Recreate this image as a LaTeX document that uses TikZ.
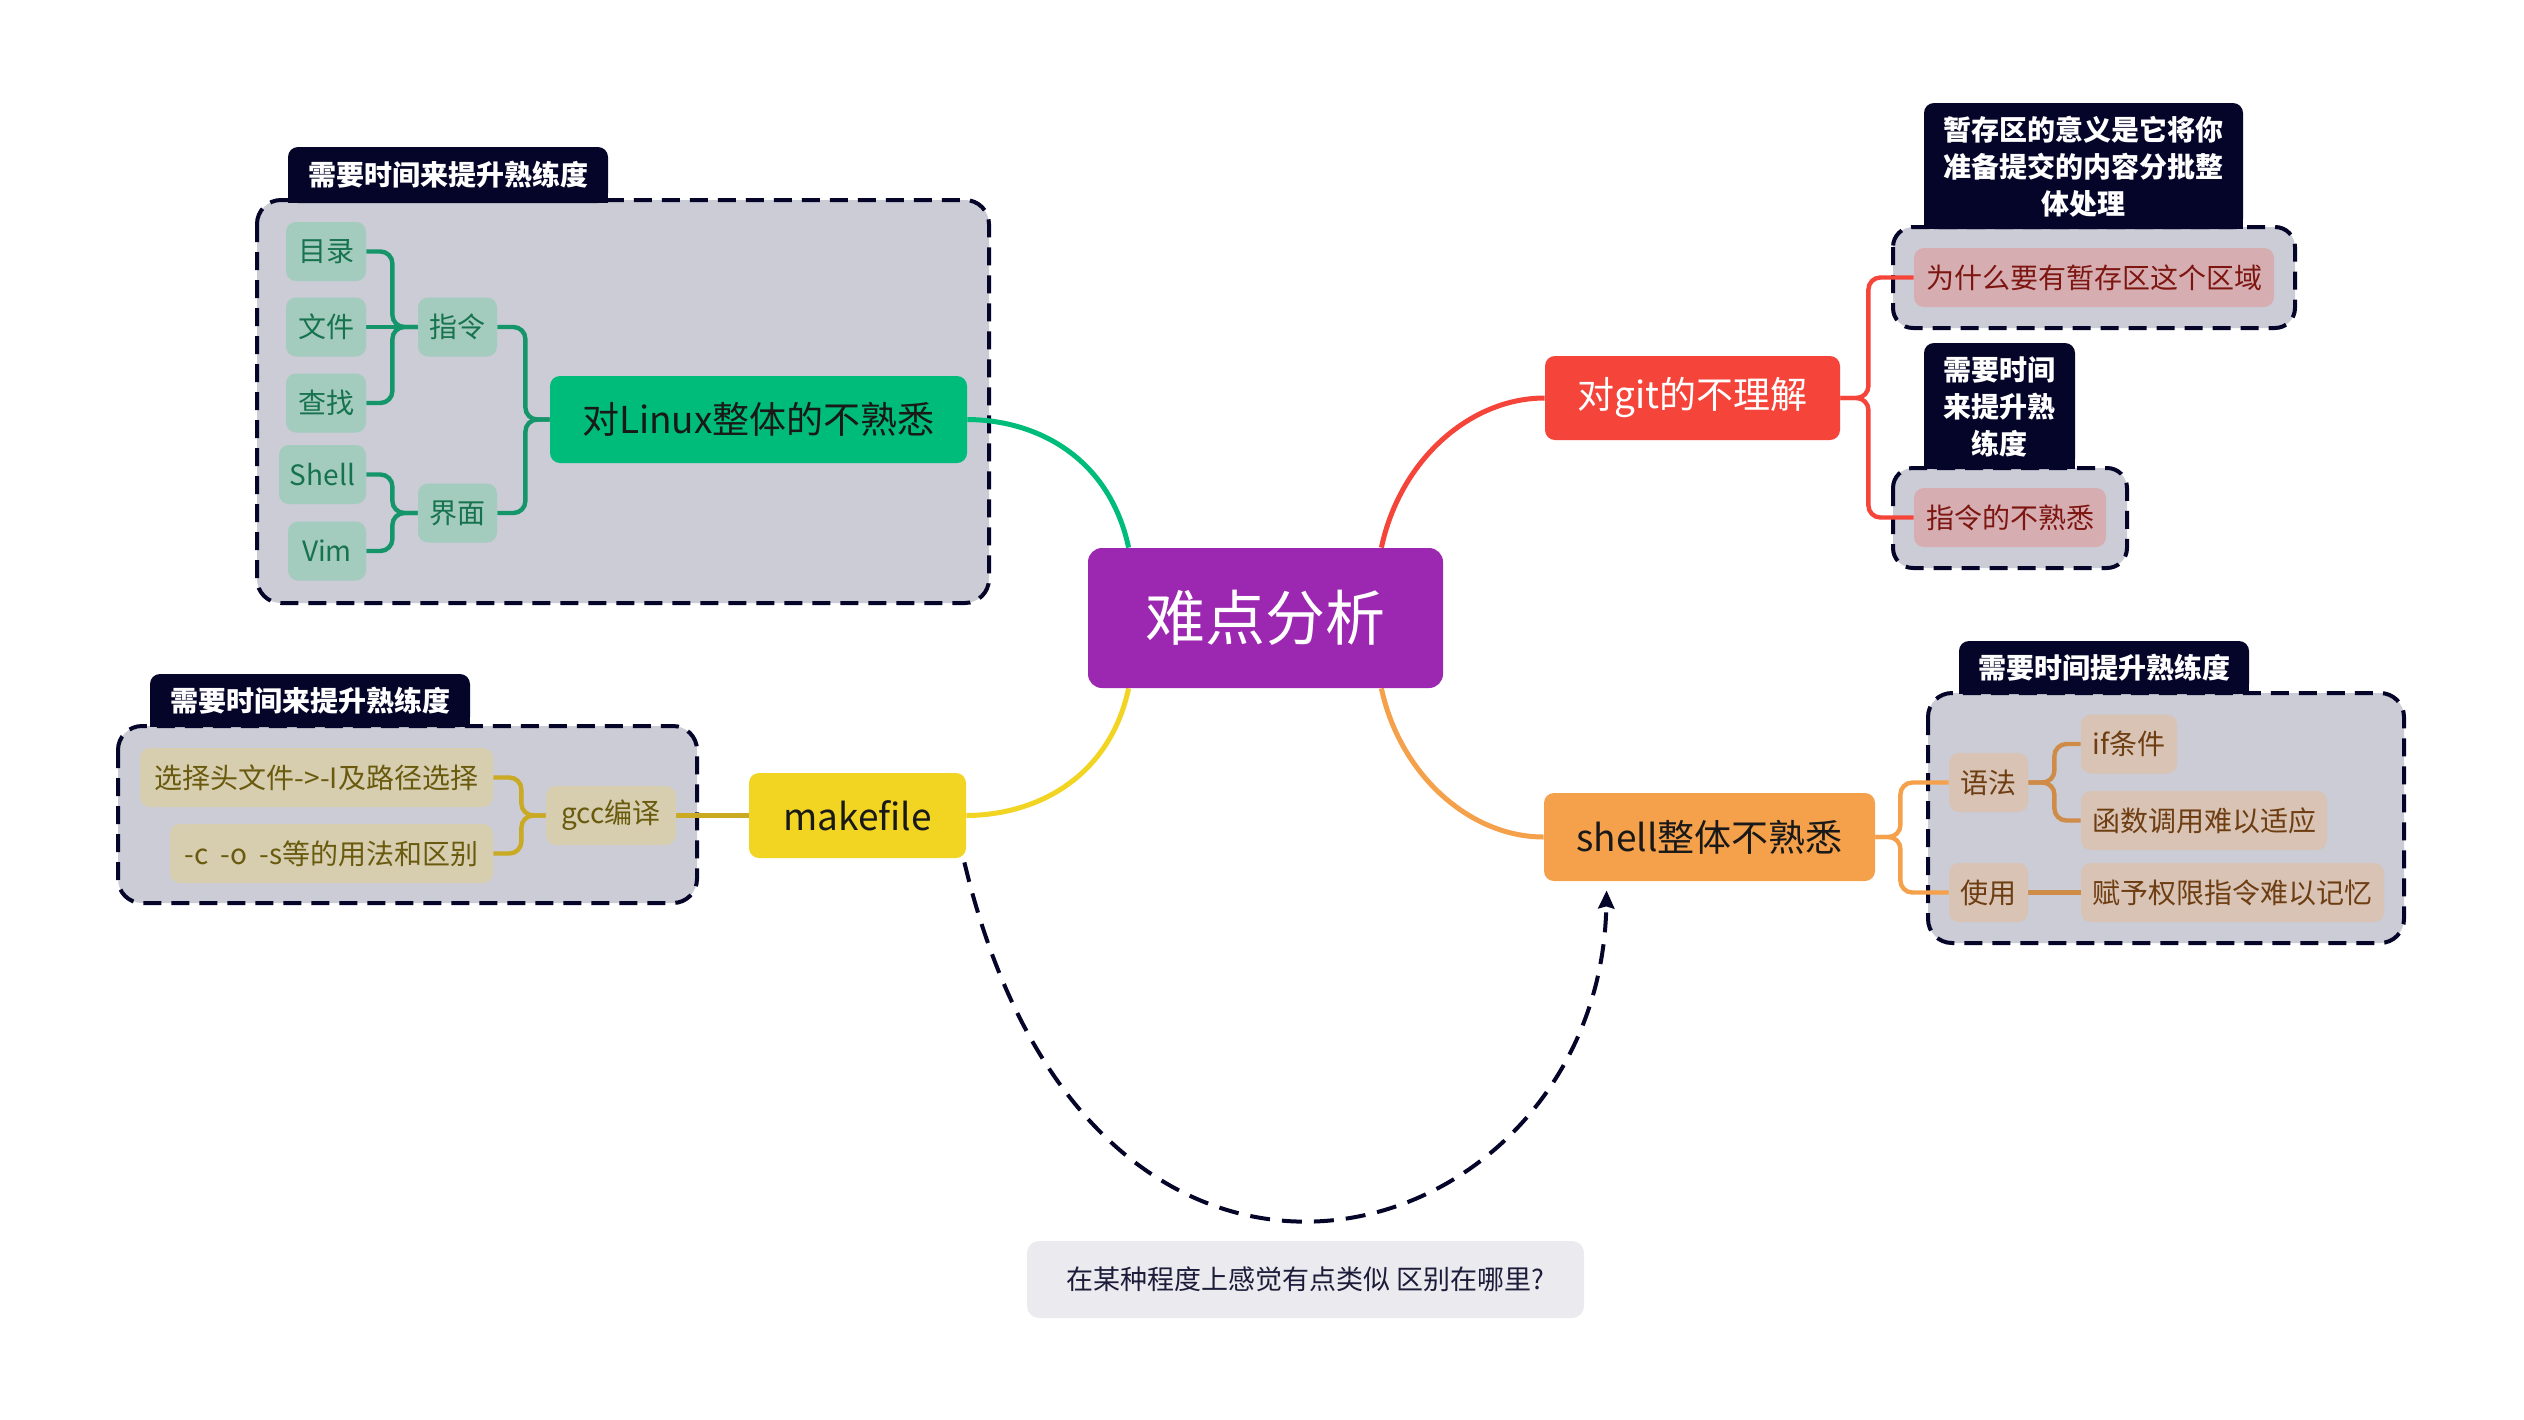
\documentclass[tikz,border=0pt]{standalone}
\usepackage{fontspec}
\setmainfont{Noto Sans CJK SC}
\usetikzlibrary{calc,arrows.meta}
\pgfdeclarelayer{grp}
\pgfdeclarelayer{edge}
\pgfsetlayers{grp,edge,main}
\definecolor{navy}{HTML}{05052A}
\definecolor{boxgray}{HTML}{CBCCD6}
\definecolor{cpurple}{HTML}{9C27B0}
\definecolor{cgreen}{HTML}{00BC7B}
\definecolor{gline}{HTML}{15956A}
\definecolor{gsub}{HTML}{A3CBBE}
\definecolor{gtext}{HTML}{17734F}
\definecolor{cred}{HTML}{F5453A}
\definecolor{rsub}{HTML}{D6AEB2}
\definecolor{rtext}{HTML}{7D1510}
\definecolor{cyellow}{HTML}{F2D422}
\definecolor{yline}{HTML}{C9AA22}
\definecolor{ysub}{HTML}{D6CEAF}
\definecolor{ytext}{HTML}{6A5A0E}
\definecolor{corange}{HTML}{F5A04A}
\definecolor{oline}{HTML}{CF8B48}
\definecolor{osub}{HTML}{D8C3B4}
\definecolor{otext}{HTML}{6E3D12}
\definecolor{notefill}{HTML}{EBEAEE}
\definecolor{notetext}{HTML}{1C1C3A}
\tikzset{
  topic/.style={rounded corners=5pt, inner sep=0pt, minimum height=43pt, font=\fontsize{18.5pt}{22pt}\selectfont},
  sub/.style={rounded corners=5pt, inner sep=0pt, minimum height=29.5pt, font=\fontsize{14pt}{17pt}\selectfont},
  gs/.style={sub, fill=gsub, text=gtext},
  rs/.style={sub, fill=rsub, text=rtext},
  ys/.style={sub, fill=ysub, text=ytext},
  os/.style={sub, fill=osub, text=otext},
  grpbox/.style={draw=navy, fill=boxgray, line width=2pt, dash pattern=on 9pt off 5pt, rounded corners=12pt},
  tagfill/.style={fill=navy},
  tagtext/.style={text=white, font=\bfseries\fontsize{14pt}{18.5pt}\selectfont, align=center, inner sep=0pt},
  mainedge/.style={line width=2.5pt},
  subedge/.style={line width=2.2pt, rounded corners=6pt},
  relation/.style={draw=navy, line width=2pt, dash pattern=on 10pt off 6pt, -{Stealth[length=9pt,width=8pt,inset=1pt]}},
}
\begin{document}
\begin{tikzpicture}[x=0.5pt,y=-0.5pt]
\useasboundingbox (0,0) rectangle (2524,1420);

% group boxes and tags
\begin{pgfonlayer}{grp}
\fill[white] (0,0) rectangle (2524,1420);
\draw[grpbox] (257,200) rectangle (989,603);
\draw[grpbox] (118,726) rectangle (697,903);
\draw[grpbox, rounded corners=10pt] (1893,227) rectangle (2295,328);
\draw[grpbox, rounded corners=10pt] (1893,468) rectangle (2127,568);
\draw[grpbox] (1928,693) rectangle (2404,943);
\fill[tagfill, rounded corners=5pt] (288,147) rectangle (608,203);
\fill[tagfill] (288,180) rectangle (608,203);
\fill[tagfill, rounded corners=5pt] (150,674) rectangle (470,727);
\fill[tagfill] (150,705) rectangle (470,727);
\fill[tagfill, rounded corners=5pt] (1924,103) rectangle (2243,229);
\fill[tagfill] (1924,200) rectangle (2243,229);
\fill[tagfill, rounded corners=5pt] (1924,343) rectangle (2075,469);
\fill[tagfill] (1924,440) rectangle (2075,469);
\fill[tagfill, rounded corners=5pt] (1959,641) rectangle (2249,694);
\fill[tagfill] (1959,670) rectangle (2249,694);
\end{pgfonlayer}

\node[tagtext] (t1) at (448,175) {需要时间来提升熟练度};
\node[tagtext] (t2) at (310,701) {需要时间来提升熟练度};
\node[tagtext] (t3) at (2083.5,167) {暂存区的意义是它将你\\准备提交的内容分批整\\体处理};
\node[tagtext] (t4) at (1999.5,407) {需要时间\\来提升熟\\练度};
\node[tagtext] (t5) at (2104,668) {需要时间提升熟练度};

% main topics
\node[topic, fill=cpurple, text=white, minimum width=177.5pt, minimum height=70pt, rounded corners=7pt, font=\fontsize{30pt}{36pt}\selectfont] (ctr) at (1265.5,618) {难点分析};
\node[topic, fill=cgreen, text=black!90, minimum width=208.5pt, minimum height=43.5pt] (lin) at (758.5,419.5) {对Linux整体的不熟悉};
\node[topic, fill=cred, text=white, minimum width=147.5pt, minimum height=42pt] (git) at (1692.5,398) {对git的不理解};
\node[topic, fill=cyellow, text=black!90, minimum width=108.5pt, minimum height=42.5pt] (mk) at (857.5,815.5) {makefile};
\node[topic, fill=corange, text=black!90, minimum width=165.5pt, minimum height=44pt] (sh) at (1709.5,837) {shell整体不熟悉};

% green subtopics
\node[gs, minimum width=40pt] (ml) at (326,251.5) {目录};
\node[gs, minimum width=40pt] (wj) at (326,327) {文件};
\node[gs, minimum width=40pt] (cz) at (326,403) {查找};
\node[gs, minimum width=43.5pt] (shl) at (322.5,474.5) {Shell};
\node[gs, minimum width=39pt] (vim) at (327,551) {Vim};
\node[gs, minimum width=39.5pt] (zl) at (457.5,327) {指令};
\node[gs, minimum width=39.5pt] (jm) at (457.5,513) {界面};

% yellow subtopics
\node[ys, minimum width=176.5pt] (xz) at (316.5,777.5) {选择头文件->-I及路径选择};
\node[ys, minimum width=161.5pt] (co) at (331.5,853.5) {-c\hspace{3pt} -o\hspace{3pt} -s等的用法和区别};
\node[ys, minimum width=65pt] (gcc) at (611,815.5) {gcc编译};

% red subtopics
\node[rs, minimum width=180pt] (why) at (2094,277.5) {为什么要有暂存区这个区域};
\node[rs, minimum width=96pt] (zlb) at (2010,517.5) {指令的不熟悉};

% orange subtopics
\node[os, minimum width=39.5pt] (yf) at (1988.5,782.5) {语法};
\node[os, minimum width=39.5pt] (sy) at (1988.5,892.5) {使用};
\node[os, minimum width=48pt] (ifc) at (2129,744) {if条件};
\node[os, minimum width=123pt] (hs) at (2204,820.5) {函数调用难以适应};
\node[os, minimum width=151.5pt] (fy) at (2232.5,892.5) {赋予权限指令难以记忆};

% note
\node[fill=notefill, text=notetext, rounded corners=6pt, inner sep=0pt, minimum width=278.5pt, minimum height=38.5pt, font=\fontsize{13.5pt}{16pt}\selectfont] (note) at (1305.5,1279.5) {在某种程度上感觉有点类似 区别在哪里?};

% edges
\begin{pgfonlayer}{edge}
\draw[mainedge, cgreen] ($(ctr.north west)+(41,0)$) .. controls (1110,460) and (1040,420) .. (lin.east);
\draw[mainedge, cred] ($(ctr.north east)+(-62,0)$) .. controls (1400,460) and (1470,398) .. (git.west);
\draw[mainedge, cyellow] ($(ctr.south west)+(41,0)$) .. controls (1110,775) and (1040,815) .. (mk.east);
\draw[mainedge, corange] ($(ctr.south east)+(-62,0)$) .. controls (1400,775) and (1470,837) .. (sh.west);

\draw[subedge, gline] (ml.east) -- ++(26,0) |- (zl.west);
\draw[subedge, gline] (wj.east) -- (zl.west);
\draw[subedge, gline] (cz.east) -- ++(26,0) |- (zl.west);
\draw[subedge, gline] (shl.east) -- ++(26,0) |- (jm.west);
\draw[subedge, gline] (vim.east) -- ++(26,0) |- (jm.west);
\draw[subedge, gline] (zl.east) -- ++(28,0) |- (lin.west);
\draw[subedge, gline] (jm.east) -- ++(28,0) |- (lin.west);

\draw[subedge, yline] (xz.east) -- ++(28,0) |- (gcc.west);
\draw[subedge, yline] (co.east) -- ++(28,0) |- (gcc.west);
\draw[subedge, yline] (gcc.east) -- (mk.west);

\draw[subedge, cred] (git.east) -- ++(28,0) |- (why.west);
\draw[subedge, cred] (git.east) -- ++(28,0) |- (zlb.west);

\draw[subedge, corange] (sh.east) -- ++(25,0) |- (yf.west);
\draw[subedge, corange] (sh.east) -- ++(25,0) |- (sy.west);
\draw[subedge, oline] (yf.east) -- ++(26,0) |- (ifc.west);
\draw[subedge, oline] (yf.east) -- ++(26,0) |- (hs.west);
\draw[subedge, oline] (sy.east) -- (fy.west);

\draw[relation] ($(mk.south east)+(-2,4)$) .. controls (1095,1410) and (1600,1255) .. ($(sh.south west)+(63,9)$);
\end{pgfonlayer}
\end{tikzpicture}
\end{document}
